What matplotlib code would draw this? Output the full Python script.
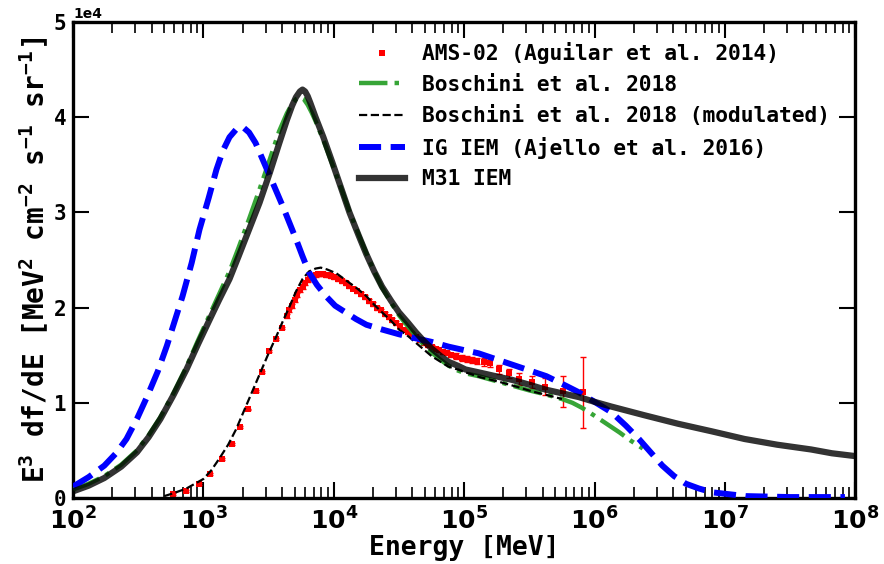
import numpy as np
import matplotlib
matplotlib.use("Agg")
import matplotlib.pyplot as plt

plt.rcParams['mathtext.fontset'] = 'custom'
plt.rcParams['mathtext.rm'] = 'DejaVu Sans Mono:bold'
plt.rcParams['mathtext.bf'] = 'DejaVu Sans:bold'
plt.rcParams['mathtext.default'] = 'rm'

# ---------------- data (energies as log10(E/MeV), values in units of 1e4) -------------
m31_logE = [2.00, 2.12, 2.24, 2.37, 2.49, 2.58, 2.67, 2.77, 2.87, 2.96, 3.05, 3.12, 3.20,
            3.27, 3.35, 3.43, 3.51, 3.58, 3.64, 3.68, 3.71, 3.74, 3.76, 3.78, 3.80, 3.82,
            3.86, 3.92, 3.99,
            4.06, 4.12, 4.19, 4.25, 4.31, 4.37, 4.44, 4.50, 4.57, 4.63, 4.69, 4.75, 4.82,
            4.88, 4.95, 5.01, 5.11, 5.24, 5.37, 5.50, 5.62, 5.75, 5.88, 6.00, 6.13, 6.38,
            6.64, 6.90, 7.15, 7.40, 7.66, 7.82, 8.00]
m31_val = [0.07, 0.13, 0.21, 0.33, 0.48, 0.64, 0.83, 1.08, 1.35, 1.62, 1.88, 2.08, 2.30,
           2.54, 2.82, 3.10, 3.42, 3.72, 3.97, 4.12, 4.21, 4.27, 4.29, 4.27, 4.22, 4.15,
           4.00, 3.79, 3.52,
           3.24, 3.00, 2.76, 2.56, 2.38, 2.22, 2.07, 1.95, 1.84, 1.74, 1.65, 1.57, 1.49,
           1.43, 1.39, 1.35, 1.32, 1.28, 1.24, 1.19, 1.14, 1.10, 1.06, 1.01, 0.96, 0.87,
           0.78, 0.70, 0.62, 0.56, 0.51, 0.47, 0.44]

bos_logE = [2.00, 2.12, 2.24, 2.37, 2.49, 2.58, 2.67, 2.77, 2.87, 2.96, 3.05, 3.12, 3.20,
            3.27, 3.35, 3.43, 3.51, 3.58, 3.64, 3.68, 3.71, 3.74, 3.77, 3.80, 3.83, 3.86,
            3.92, 3.99,
            4.06, 4.12, 4.19, 4.25, 4.31, 4.37, 4.44, 4.50, 4.57, 4.63, 4.69, 4.75, 4.82,
            4.88, 4.95, 5.01, 5.11, 5.24, 5.37, 5.50, 5.62, 5.75, 5.83, 5.90, 5.96, 6.07,
            6.19, 6.28, 6.37]
bos_val = [0.09, 0.15, 0.23, 0.35, 0.50, 0.66, 0.85, 1.10, 1.38, 1.66, 1.93, 2.14, 2.38,
           2.63, 2.93, 3.24, 3.56, 3.85, 4.04, 4.14, 4.19, 4.21, 4.19, 4.13, 4.05, 3.96,
           3.76, 3.50,
           3.24, 3.01, 2.77, 2.57, 2.38, 2.21, 2.05, 1.92, 1.80, 1.70, 1.61, 1.53, 1.45,
           1.39, 1.34, 1.31, 1.28, 1.23, 1.18, 1.13, 1.09, 1.04, 1.00, 0.95, 0.90, 0.80,
           0.69, 0.60, 0.52]

mod_logE = [2.70, 2.77, 2.87, 3.00, 3.06, 3.12, 3.19, 3.25, 3.30, 3.35, 3.40, 3.45, 3.50,
            3.56, 3.61, 3.66, 3.71, 3.76, 3.81, 3.86, 3.90, 3.95, 4.02, 4.10, 4.18, 4.25,
            4.31, 4.37, 4.44, 4.50, 4.57, 4.63, 4.69, 4.75, 4.82, 4.88, 4.95, 5.01, 5.12,
            5.27, 5.40, 5.52, 5.64, 5.75]
mod_val = [0.02, 0.05, 0.10, 0.20, 0.29, 0.41, 0.56, 0.72, 0.88, 1.04, 1.20, 1.36, 1.52,
           1.70, 1.86, 2.01, 2.17, 2.30, 2.38, 2.41, 2.42, 2.40, 2.36, 2.28, 2.20, 2.12,
           2.03, 1.95, 1.86, 1.77, 1.70, 1.63, 1.56, 1.49, 1.43, 1.38, 1.35, 1.32, 1.27,
           1.22, 1.17, 1.12, 1.08, 1.04]

ig_logE = [2.00, 2.12, 2.24, 2.33, 2.41, 2.49, 2.57, 2.65, 2.72, 2.78, 2.84, 2.91, 2.97,
           3.04, 3.10, 3.15, 3.20, 3.25, 3.30, 3.35, 3.40, 3.45, 3.51, 3.56, 3.61, 3.66,
           3.71, 3.76, 3.81, 3.87, 3.94, 4.01, 4.09, 4.17, 4.25, 4.37, 4.50, 4.62, 4.75,
           4.88, 5.01, 5.11, 5.24, 5.37, 5.50, 5.63, 5.75, 5.88, 6.00, 6.13, 6.24, 6.34,
           6.43, 6.52, 6.61, 6.70, 6.80, 6.90, 7.16, 7.50, 7.92]
ig_val = [0.12, 0.22, 0.34, 0.47, 0.62, 0.83, 1.07, 1.33, 1.60, 1.86, 2.12, 2.47, 2.82,
          3.15, 3.45, 3.65, 3.79, 3.87, 3.90, 3.84, 3.73, 3.57, 3.38, 3.22, 3.06, 2.89,
          2.72, 2.54, 2.37, 2.24, 2.12, 2.02, 1.95, 1.88, 1.82, 1.77, 1.72, 1.68, 1.64,
          1.59, 1.55, 1.52, 1.46, 1.40, 1.34, 1.28, 1.20, 1.11, 1.01, 0.90, 0.76, 0.62,
          0.48, 0.34, 0.23, 0.15, 0.10, 0.06, 0.02, 0.01, 0.01]

ams_logE = [2.77, 2.87, 2.97, 3.05, 3.14, 3.22, 3.28, 3.34, 3.40, 3.45, 3.50, 3.56, 3.60,
            3.64, 3.66, 3.68, 3.70, 3.72, 3.74, 3.76, 3.78, 3.80, 3.82, 3.84, 3.86, 3.88,
            3.90, 3.92, 3.94, 3.96, 3.98, 4.00, 4.03, 4.06, 4.09, 4.12, 4.15, 4.18, 4.21,
            4.24, 4.27, 4.30, 4.33, 4.36, 4.39, 4.42, 4.45, 4.48, 4.51, 4.54, 4.57, 4.60,
            4.63, 4.66, 4.69, 4.72, 4.75, 4.78, 4.81, 4.84, 4.87, 4.90, 4.94, 4.98, 5.02,
            5.06, 5.10, 5.15, 5.20, 5.27, 5.34, 5.42, 5.52, 5.62, 5.76, 5.91]
ams_val = [0.04, 0.07, 0.15, 0.25, 0.41, 0.57, 0.75, 0.93, 1.12, 1.32, 1.54, 1.67, 1.79,
           1.91, 1.97, 2.02, 2.08, 2.13, 2.18, 2.22, 2.26, 2.29, 2.31, 2.33, 2.34, 2.35,
           2.35, 2.35, 2.34, 2.34, 2.33, 2.32, 2.30, 2.28, 2.26, 2.23, 2.20, 2.17, 2.14,
           2.11, 2.07, 2.04, 2.00, 1.97, 1.93, 1.90, 1.87, 1.84, 1.81, 1.77, 1.74, 1.72,
           1.69, 1.66, 1.63, 1.61, 1.59, 1.57, 1.55, 1.53, 1.52, 1.50, 1.49, 1.47, 1.46,
           1.45, 1.44, 1.43, 1.42, 1.35, 1.31, 1.25, 1.22, 1.17, 1.12, 1.11]
ams_err = [0.01, 0.01, 0.01, 0.01, 0.01, 0.01, 0.01, 0.01, 0.01, 0.01, 0.01, 0.01, 0.01,
           0.02, 0.02, 0.02, 0.02, 0.02, 0.02, 0.02, 0.02, 0.02, 0.02, 0.02, 0.02, 0.02,
           0.02, 0.02, 0.02, 0.02, 0.02, 0.02, 0.02, 0.02, 0.02, 0.02, 0.02, 0.02, 0.02,
           0.02, 0.02, 0.02, 0.02, 0.02, 0.02, 0.02, 0.02, 0.02, 0.02, 0.02, 0.02, 0.02,
           0.02, 0.02, 0.02, 0.02, 0.02, 0.02, 0.02, 0.02, 0.02, 0.02, 0.03, 0.03, 0.03,
           0.03, 0.03, 0.04, 0.04, 0.05, 0.05, 0.06, 0.06, 0.09, 0.16, 0.37]

xtick_vals = [1e2, 1e3, 1e4, 1e5, 1e6, 1e7, 1e8]
xtick_labels = [r'$\mathbf{10^{2}}$', r'$\mathbf{10^{3}}$', r'$\mathbf{10^{4}}$',
                r'$\mathbf{10^{5}}$', r'$\mathbf{10^{6}}$', r'$\mathbf{10^{7}}$',
                r'$\mathbf{10^{8}}$']
labels = ['AMS-02 (Aguilar et al. 2014)', 'Boschini et al. 2018',
          'Boschini et al. 2018 (modulated)', 'IG IEM (Ajello et al. 2016)', 'M31 IEM']

SCALE = 1e4
def E(lg):
    return np.power(10.0, np.asarray(lg))
def V(v):
    return np.asarray(v) * SCALE

fig = plt.figure(figsize=(8.84, 5.64), dpi=100)
ax = fig.add_axes([0.0826, 0.117, 0.885, 0.844])

mono = {'family': 'DejaVu Sans Mono', 'weight': 'bold'}

ax.errorbar(E(ams_logE), V(ams_val), yerr=V(ams_err), fmt='none', ecolor='red',
            elinewidth=1.0, capsize=2.5, capthick=1.0, zorder=2)
h_ams, = ax.plot(E(ams_logE), V(ams_val), 's', color='red', ms=5, mew=0, zorder=2,
                 label=labels[0])
h_bos, = ax.plot(E(bos_logE), V(bos_val), '-.', color='tab:green', lw=3.2, alpha=0.95,
                 zorder=3, label=labels[1])
h_mod, = ax.plot(E(mod_logE), V(mod_val), '--', color='black', lw=1.6, zorder=4,
                 label=labels[2])
h_ig, = ax.plot(E(ig_logE), V(ig_val), '--', color='blue', lw=4.3, zorder=4,
                label=labels[3])
h_m31, = ax.plot(E(m31_logE), V(m31_val), '-', color='black', lw=4.5, alpha=0.8,
                 zorder=5, label=labels[4], solid_joinstyle='round')

ax.set_xscale('log')
ax.set_xlim(1e2, 1e8)
ax.set_ylim(0, 5e4)
ax.set_xticks(xtick_vals)
ax.set_xticklabels(xtick_labels, fontsize=18)
ax.ticklabel_format(axis='y', style='sci', scilimits=(0, 0), useMathText=False)
ax.yaxis.get_offset_text().set_fontsize(10)
ax.yaxis.get_offset_text().set_fontweight('bold')
for lab in ax.get_yticklabels():
    lab.set_fontfamily('DejaVu Sans Mono')
    lab.set_fontweight('bold')
    lab.set_fontsize(15)
ax.tick_params(axis='both', which='major', direction='in', length=11.5, width=1.5,
               top=True, right=True)
ax.tick_params(axis='x', which='minor', direction='in', length=8, width=1.2,
               top=True, bottom=True)
ax.tick_params(axis='x', which='major', pad=7)
ax.tick_params(axis='y', which='major', pad=5)
for s in ax.spines.values():
    s.set_linewidth(2.4)

ax.set_xlabel('Energy [MeV]', fontsize=19, labelpad=0, **mono)
ax.set_ylabel(r'E$^3$ df/dE [MeV$^2$ cm$^{-2}$ s$^{-1}$ sr$^{-1}$]', fontsize=20,
              labelpad=2, **mono)

leg = ax.legend(handles=[h_ams, h_bos, h_mod, h_ig, h_m31], loc='upper left',
                bbox_to_anchor=(0.365, 0.958), frameon=False, numpoints=1,
                prop={'family': 'DejaVu Sans Mono', 'weight': 'bold', 'size': 15.3},
                handlelength=2.2, handletextpad=0.8, labelspacing=0.5,
                borderpad=0, borderaxespad=0, markerscale=1.0)

fig.savefig('out.png', dpi=100)
